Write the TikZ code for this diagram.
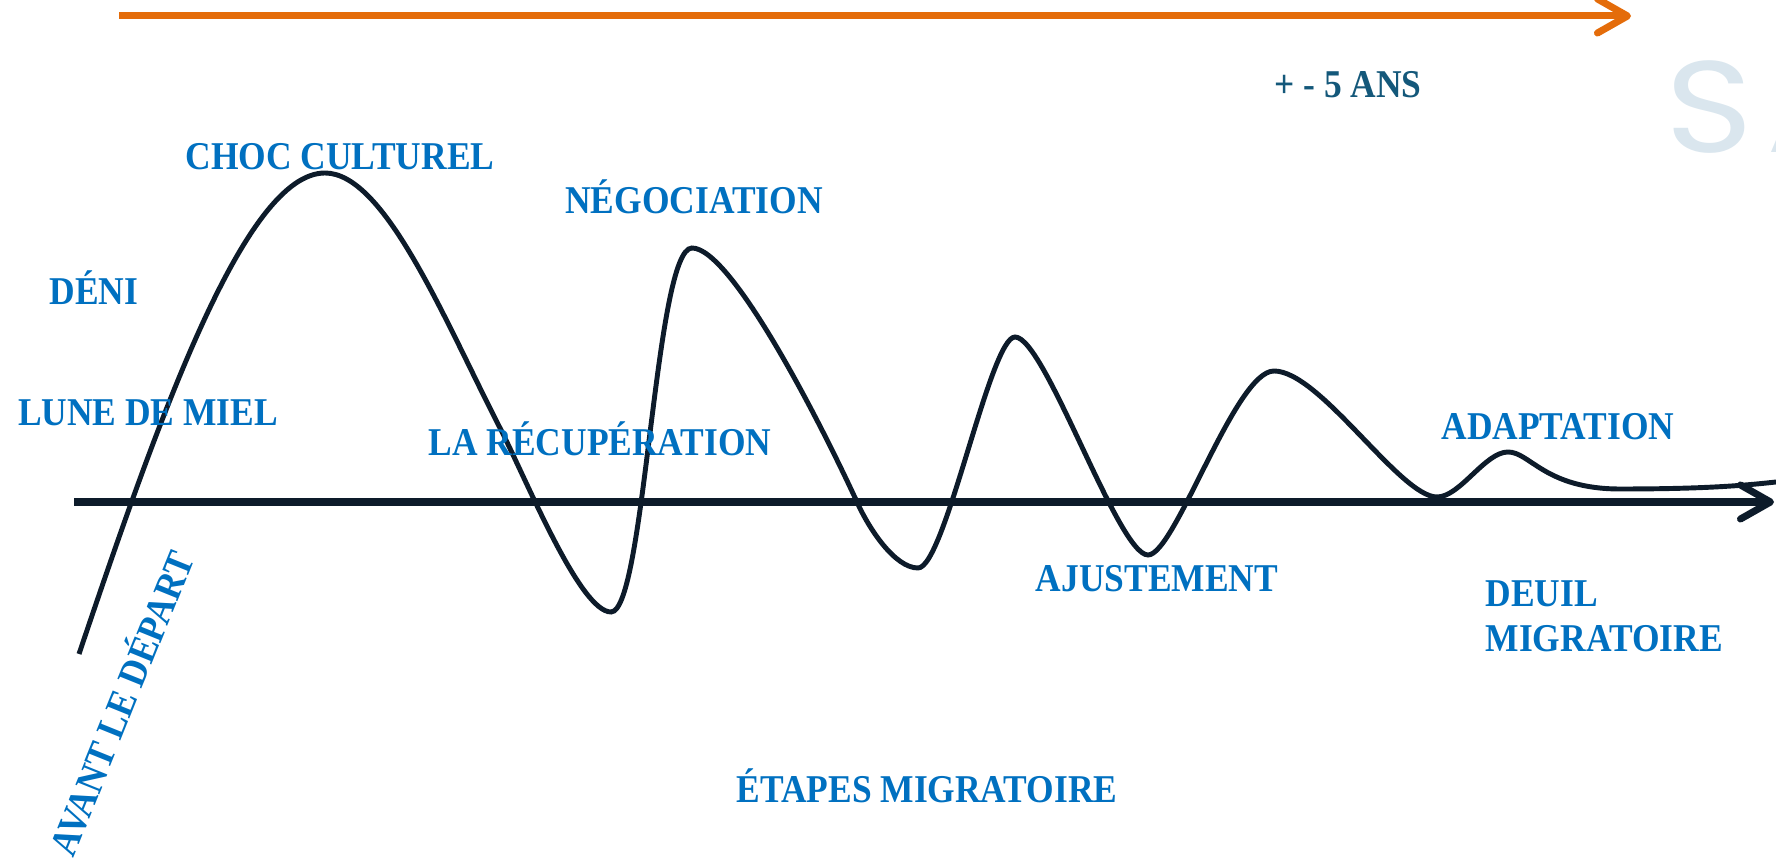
\documentclass[tikz,border=0pt]{standalone}
\usepackage{fontspec}
\setmainfont{Liberation Serif}[FakeStretch=0.9]
\newfontfamily\fondfont{Poppins}[FakeStretch=1.15]
\usetikzlibrary{arrows.meta}
\definecolor{bleuetape}{RGB}{0,112,192}
\definecolor{bleuduree}{RGB}{20,88,122}
\definecolor{orangetemps}{RGB}{228,108,10}
\definecolor{encre}{RGB}{13,27,42}
\definecolor{filigrane}{RGB}{218,230,238}

\begin{document}
\begin{tikzpicture}[x=0.01cm,y=-0.01cm,
	etape/.style={text=bleuetape, font=\fontsize{11.2}{13}\selectfont\bfseries, inner sep=0pt, anchor=base},
	fleche/.style={line width=2pt, -{Straight Barb[length=0.3cm,width=0.34cm,round]}}]
	%\draw[help lines] (0,0) grid[step=100] (1776,862);
	\useasboundingbox (0,0) rectangle (1776,862);
	\clip (0,0) rectangle (1776,862);
	\node[text=filigrane, font=\fondfont\fontsize{37}{40}\selectfont, inner sep=0pt, anchor=base west] (fond) at (1665,153) {S\kern0.1em A};
	% fleche du temps
	\coordinate (t0) at (119,16);
	\coordinate (t1) at (1631,16);
	\draw[fleche, orangetemps] (t0) -- (t1);
	\node[etape, text=bleuduree] (duree) at (1348,98) {+ - 5 ANS};
	% axe
	\coordinate (a0) at (74,502);
	\coordinate (a1) at (1774,502);
	\draw[fleche, encre] (a0) -- (a1);
	% courbe
	\draw[encre, line width=1.4pt] (79,654)
		.. controls (159,417) and (245,173) .. (325,173)
		.. controls (385,173) and (445,321) .. (500,428)
		.. controls (527,481) and (580,612) .. (611,612)
		.. controls (645,612) and (655,248) .. (692,248)
		.. controls (730,248) and (815,411) .. (857,502)
		.. controls (869,529) and (895,568) .. (918,568)
		.. controls (945,568) and (990,337) .. (1015,337)
		.. controls (1045,337) and (1118,555) .. (1148,555)
		.. controls (1175,555) and (1235,371) .. (1274,371)
		.. controls (1320,371) and (1400,497) .. (1437,497)
		.. controls (1460,497) and (1485,452) .. (1508,452)
		.. controls (1530,452) and (1545,489) .. (1620,489)
		.. controls (1700,489) and (1740,486) .. (1776,482);
	% etapes
	\node[etape] (choc) at (340,170) {CHOC CULTUREL};
	\node[etape] (deni) at (94,305) {DÉNI};
	\node[etape] (lune) at (148,426) {LUNE DE MIEL};
	\node[etape] (nego) at (694,214) {NÉGOCIATION};
	\node[etape] (recup) at (600,456) {LA RÉCUPÉRATION};
	\node[etape] (ajust) at (1157,592) {AJUSTEMENT};
	\node[etape] (adapt) at (1558,440) {ADAPTATION};
	\node[etape, anchor=base west, align=left] (deuil) at (1485,652) {DEUIL\\MIGRATOIRE};
	\node[etape, anchor=center, rotate=68] (avant) at (119,702) {AVANT LE DÉPART};
	\node[etape] (titre) at (927,803) {ÉTAPES MIGRATOIRE};
\end{tikzpicture}
\end{document}
